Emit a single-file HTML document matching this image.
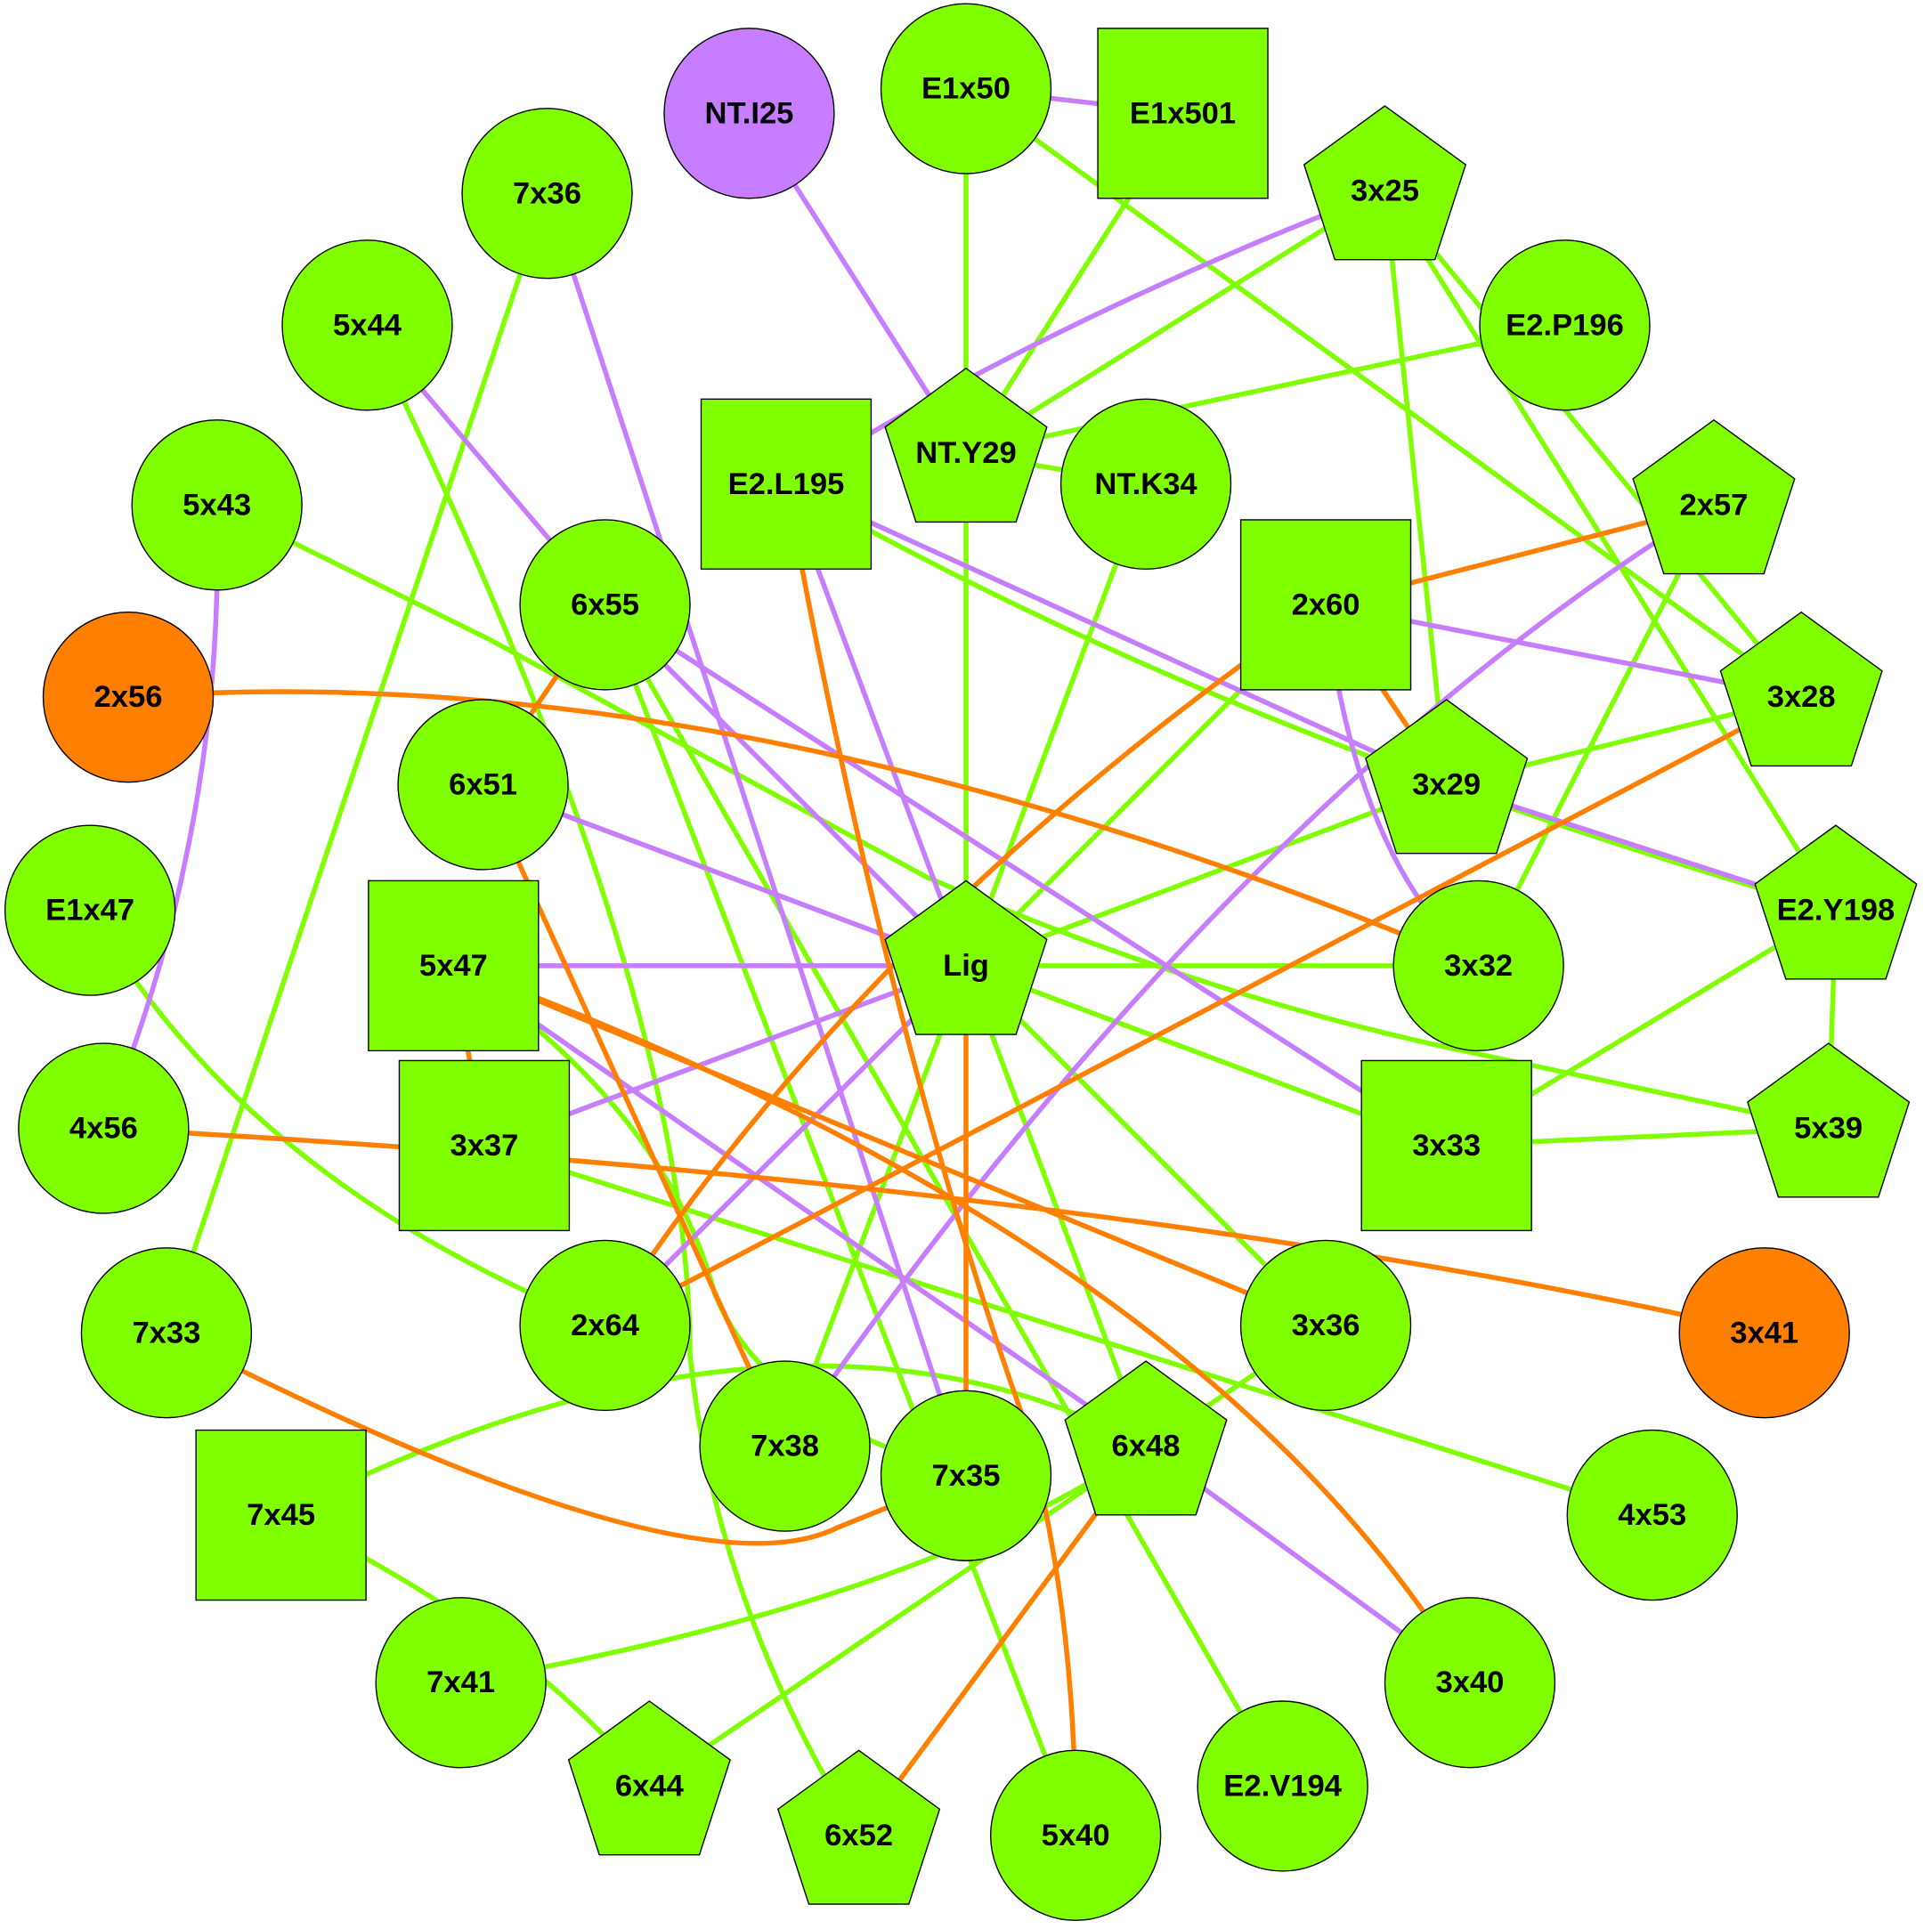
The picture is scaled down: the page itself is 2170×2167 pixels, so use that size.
<!DOCTYPE html>
<html><head><meta charset="utf-8"><style>html,body{margin:0;padding:0;background:#fff}svg{display:block}</style></head>
<body>
<svg width="2170" height="2167" viewBox="0 0 1568 1566" xmlns="http://www.w3.org/2000/svg">
<defs>
<polygon id="p" points="0,-69 65.6,-21.3 40.6,55.8 -40.6,55.8 -65.6,-21.3" fill="#7fff00" stroke="#000" stroke-width="1"/>
</defs>
<g fill="none" stroke-width="4">
<g stroke="#7fff00">
<path d="M784,72 L784,368"/>
<path d="M960,92 L784,368"/>
<path d="M1124,155 L784,368"/>
<path d="M1270,264 L784,368"/>
<path d="M784,368 L930,393"/>
<path d="M784,368 L784,784"/>
<path d="M784,72 L1462,566"/>
<path d="M1124,155 L1462,566"/>
<path d="M1124,155 L1490,739"/>
<path d="M1124,155 L1174,637"/>
<path d="M1391,410 L1200,784"/>
<path d="M1462,566 L1174,637"/>
<path d="M638,393 Q1000,600 1490,739"/>
<path d="M1076,491 L784,784"/>
<path d="M930,393 L784,784"/>
<path d="M1174,637 L784,784"/>
<path d="M784,784 L1200,784"/>
<path d="M784,784 L1174,930"/>
<path d="M784,784 L1076,1076"/>
<path d="M784,784 L930,1174"/>
<path d="M784,784 L637,1174"/>
<path d="M176,410 L397,519 Q600,630 752,712 Q980,810 1192,854 L1484,916"/>
<path d="M1174,930 L1484,916"/>
<path d="M1174,930 L1490,739"/>
<path d="M1490,739 L1484,916"/>
<path d="M298,264 Q560,800 560,1100 Q580,1300 697,1490"/>
<path d="M491,491 L873,1490"/>
<path d="M491,491 L1041,1450"/>
<path d="M444,157 L135,1082"/>
<path d="M73,739 Q200,960 491,1076"/>
<path d="M368,784 Q540,900 580,1050 Q620,1150 784,1198"/>
<path d="M393,930 L1341,1230"/>
<path d="M228,1230 Q640,1020 930,1174"/>
<path d="M228,1230 Q420,1320 527,1450"/>
<path d="M374,1366 Q750,1300 930,1174"/>
<path d="M527,1450 L1076,1076"/>
</g>
<g stroke="#c77dff">
<path d="M608,92 L784,368"/>
<path d="M784,72 L960,92"/>
<path d="M1124,155 Q850,260 638,393"/>
<path d="M444,157 L784,1198"/>
<path d="M298,264 L491,491"/>
<path d="M176,410 Q180,560 150,700 Q130,800 84,916"/>
<path d="M638,393 L784,784"/>
<path d="M638,393 L1174,637 L1490,739"/>
<path d="M491,491 L784,784"/>
<path d="M1076,491 L1462,566"/>
<path d="M1076,491 Q1100,700 1200,784"/>
<path d="M1391,410 Q1000,650 637,1174"/>
<path d="M784,784 L491,1076"/>
<path d="M392,637 L784,784"/>
<path d="M368,784 L784,784"/>
<path d="M393,930 L784,784"/>
<path d="M368,784 L930,1174"/>
<path d="M930,1174 L1193,1366"/>
<path d="M491,491 L1174,930"/>
</g>
<g stroke="#ff7f00">
<path d="M104,566 Q600,530 1200,784"/>
<path d="M1076,491 L1391,410"/>
<path d="M1076,491 L1174,637"/>
<path d="M1076,491 Q700,750 491,1076"/>
<path d="M1462,566 L491,1076"/>
<path d="M491,491 L392,637"/>
<path d="M392,637 L637,1174"/>
<path d="M638,393 Q720,840 830,1150 Q873,1300 873,1490"/>
<path d="M368,784 L1076,1076"/>
<path d="M368,784 Q980,1010 1193,1366"/>
<path d="M368,784 L393,930"/>
<path d="M84,916 Q900,960 1432,1082"/>
<path d="M135,1082 Q560,1300 680,1240 L784,1198"/>
<path d="M784,784 L784,1198"/>
<path d="M930,1174 L697,1490"/>
</g>
</g>
<g stroke="#000" stroke-width="1" fill="#7fff00">
<circle cx="608" cy="92" r="69" fill="#c77dff"/>
<circle cx="784" cy="72" r="69"/>
<rect x="891" y="23" width="138" height="138"/>
<use href="#p" x="1124" y="155"/>
<circle cx="1270" cy="264" r="69"/>
<circle cx="444" cy="157" r="69"/>
<circle cx="298" cy="264" r="69"/>
<circle cx="176" cy="410" r="69"/>
<circle cx="104" cy="566" r="69" fill="#ff7f00"/>
<circle cx="73" cy="739" r="69"/>
<circle cx="84" cy="916" r="69"/>
<circle cx="135" cy="1082" r="69"/>
<rect x="159" y="1161" width="138" height="138"/>
<circle cx="374" cy="1366" r="69"/>
<use href="#p" x="527" y="1450"/>
<use href="#p" x="697" y="1490"/>
<circle cx="873" cy="1490" r="69"/>
<circle cx="1041" cy="1450" r="69"/>
<circle cx="1193" cy="1366" r="69"/>
<circle cx="1341" cy="1230" r="69"/>
<circle cx="1432" cy="1082" r="69" fill="#ff7f00"/>
<use href="#p" x="1484" y="916"/>
<use href="#p" x="1490" y="739"/>
<use href="#p" x="1462" y="566"/>
<use href="#p" x="1391" y="410"/>
<rect x="569" y="324" width="138" height="138"/>
<use href="#p" x="784" y="368"/>
<circle cx="930" cy="393" r="69"/>
<rect x="1007" y="422" width="138" height="138"/>
<circle cx="491" cy="491" r="69"/>
<circle cx="392" cy="637" r="69"/>
<use href="#p" x="1174" y="637"/>
<rect x="299" y="715" width="138" height="138"/>
<use href="#p" x="784" y="784"/>
<circle cx="1200" cy="784" r="69"/>
<rect x="324" y="861" width="138" height="138"/>
<rect x="1105" y="861" width="138" height="138"/>
<circle cx="491" cy="1076" r="69"/>
<circle cx="1076" cy="1076" r="69"/>
<circle cx="637" cy="1174" r="69"/>
<circle cx="784" cy="1198" r="69"/>
<use href="#p" x="930" y="1174"/>
</g>
<g font-family="Liberation Sans, Arial, sans-serif" font-weight="bold" font-size="25" text-anchor="middle" dominant-baseline="central" fill="#000">
<text x="608" y="92">NT.I25</text>
<text x="784" y="72">E1x50</text>
<text x="960" y="92">E1x501</text>
<text x="1124" y="155">3x25</text>
<text x="1270" y="264">E2.P196</text>
<text x="444" y="157">7x36</text>
<text x="298" y="264">5x44</text>
<text x="176" y="410">5x43</text>
<text x="104" y="566">2x56</text>
<text x="73" y="739">E1x47</text>
<text x="84" y="916">4x56</text>
<text x="135" y="1082">7x33</text>
<text x="228" y="1230">7x45</text>
<text x="374" y="1366">7x41</text>
<text x="527" y="1450">6x44</text>
<text x="697" y="1490">6x52</text>
<text x="873" y="1490">5x40</text>
<text x="1041" y="1450">E2.V194</text>
<text x="1193" y="1366">3x40</text>
<text x="1341" y="1230">4x53</text>
<text x="1432" y="1082">3x41</text>
<text x="1484" y="916">5x39</text>
<text x="1490" y="739">E2.Y198</text>
<text x="1462" y="566">3x28</text>
<text x="1391" y="410">2x57</text>
<text x="638" y="393">E2.L195</text>
<text x="784" y="368">NT.Y29</text>
<text x="930" y="393">NT.K34</text>
<text x="1076" y="491">2x60</text>
<text x="491" y="491">6x55</text>
<text x="392" y="637">6x51</text>
<text x="1174" y="637">3x29</text>
<text x="368" y="784">5x47</text>
<text x="784" y="784">Lig</text>
<text x="1200" y="784">3x32</text>
<text x="393" y="930">3x37</text>
<text x="1174" y="930">3x33</text>
<text x="491" y="1076">2x64</text>
<text x="1076" y="1076">3x36</text>
<text x="637" y="1174">7x38</text>
<text x="784" y="1198">7x35</text>
<text x="930" y="1174">6x48</text>
</g>
</svg>
</body></html>
